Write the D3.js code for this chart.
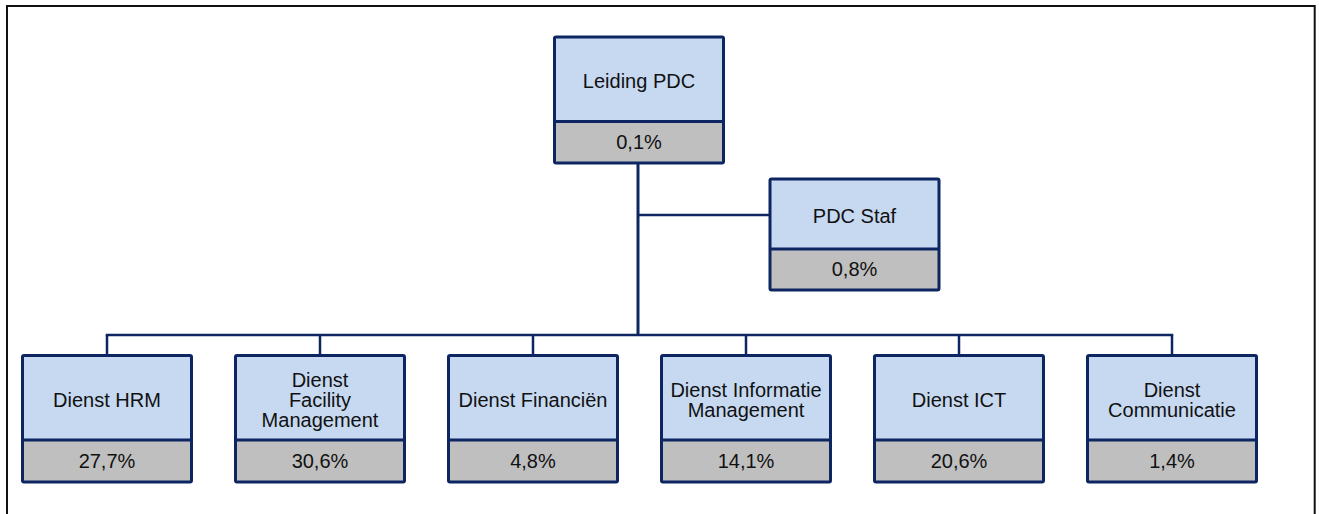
<!DOCTYPE html>
<html>
<head>
<meta charset="utf-8">
<script src="https://cdn.jsdelivr.net/npm/d3@7/dist/d3.min.js"></script>
<style>
  html, body { margin: 0; padding: 0; background: #fff; }
  svg { display: block; font-family: 'Liberation Sans', Arial, sans-serif; }
</style>
</head>
<body>
<svg id="org" width="1319" height="514" viewBox="0 0 1319 514"></svg>
<script>
'use strict';

/* global d3 */

// data
var headName = ['Leiding PDC'];
var headShare = 0.1;
var stafName = ['PDC Staf'];
var stafShare = 0.8;
var units = [
  ['Dienst HRM'],
  ['Dienst', 'Facility', 'Management'],
  ['Dienst Financiën'],
  ['Dienst Informatie', 'Management'],
  ['Dienst ICT'],
  ['Dienst', 'Communicatie']
];
var shares = [27.7, 30.6, 4.8, 14.1, 20.6, 1.4];

(function () {
  var svg = d3.select('#org');
  var navy = '#0d2662';
  var fillTop = '#c6d9f1';
  var fillBottom = '#bfbfbf';
  var nl = d3.formatLocale({ decimal: ',', thousands: '.', grouping: [3], currency: ['€', ''] });
  var pct = function (v) { return nl.format('.1f')(v) + '%'; };

  // outer frame
  svg.append('rect').attr('x', 7).attr('y', 6).attr('width', 1307.7).attr('height', 530)
    .attr('fill', 'none').attr('stroke', '#111').attr('stroke-width', 2);

  // horizontal layout of the bottom row
  var x = d3.scaleBand().domain(d3.range(units.length)).range([21, 1258]).paddingInner(0.1925).paddingOuter(0);
  var bw = x.bandwidth();

  var busY = 335;
  var trunkX = 638;

  var lines = svg.append('g').attr('stroke', navy).attr('fill', 'none');

  // trunk from head down to bus
  lines.append('line').attr('x1', trunkX).attr('x2', trunkX).attr('y1', 163).attr('y2', busY + 1)
    .attr('stroke-width', 3);
  // connector to staf
  lines.append('line').attr('x1', trunkX).attr('x2', 770).attr('y1', 215).attr('y2', 215)
    .attr('stroke-width', 2.5);
  // bus
  lines.append('line').attr('x1', x(0) + bw / 2).attr('x2', x(units.length - 1) + bw / 2)
    .attr('y1', busY).attr('y2', busY).attr('stroke-width', 2.5).attr('stroke-linecap', 'square');
  // drops
  lines.selectAll('line.drop').data(units).enter().append('line').attr('class', 'drop')
    .attr('x1', function (d, i) { return x(i) + bw / 2; })
    .attr('x2', function (d, i) { return x(i) + bw / 2; })
    .attr('y1', busY).attr('y2', 356).attr('stroke-width', 2.5);

  function box(g, x0, y0, w, hTop, hBottom, name, share) {
    // stroke centred on the edges, so inset by 1.5
    var lx = x0 + 1.5;
    var lw = w - 3;
    g.append('rect').attr('x', lx).attr('y', y0).attr('width', lw).attr('height', hTop)
      .attr('fill', fillTop);
    g.append('rect').attr('x', lx).attr('y', y0 + hTop).attr('width', lw).attr('height', hBottom)
      .attr('fill', fillBottom);
    g.append('line').attr('x1', lx).attr('x2', lx + lw).attr('y1', y0 + hTop).attr('y2', y0 + hTop)
      .attr('stroke', navy).attr('stroke-width', 3);
    g.append('rect').attr('x', lx).attr('y', y0).attr('width', lw).attr('height', hTop + hBottom)
      .attr('rx', 1.5).attr('fill', 'none').attr('stroke', navy).attr('stroke-width', 3);

    var cx = x0 + w / 2;
    var cy = y0 + hTop / 2 + 9 - (name.length - 1) * 10;
    var t = g.append('text').attr('text-anchor', 'middle').attr('font-size', 20).attr('fill', '#111');
    t.selectAll('tspan').data(name).enter().append('tspan')
      .attr('x', cx).attr('y', function (d, i) { return cy + i * 20; })
      .text(function (d) { return d; });

    g.append('text').attr('text-anchor', 'middle').attr('font-size', 20).attr('fill', '#111')
      .attr('x', cx).attr('y', y0 + hTop + hBottom / 2 + 6.5)
      .text(pct(share));
  }

  var boxes = svg.append('g');
  box(boxes.append('g'), 553, 37, 172, 84.5, 41.5, headName, headShare);
  box(boxes.append('g'), 768.5, 179, 172, 70, 41, stafName, stafShare);
  units.forEach(function (name, i) {
    box(boxes.append('g'), x(i), 355.5, bw, 84.5, 42, name, shares[i]);
  });
})();
</script>
</body>
</html>
